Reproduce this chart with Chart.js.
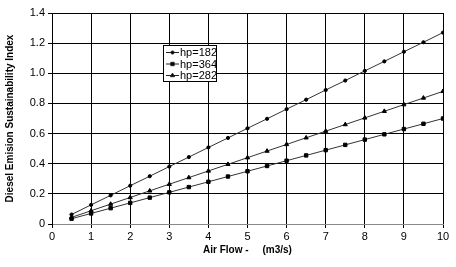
<!DOCTYPE html>
<html>
<head>
<meta charset="utf-8">
<script src="https://cdn.jsdelivr.net/npm/chart.js@4/dist/chart.umd.min.js"></script>
<style>
  html, body { margin: 0; padding: 0; background: #fff; }
  #wrap { width: 456px; height: 267px; }
</style>
</head>
<body>
<div id="wrap"><canvas id="myChart" width="456" height="267"></canvas></div>
<script>
// Air flow (m3/s)
const airFlow = [0.5, 1, 1.5, 2, 2.5, 3, 3.5, 4, 4.5, 5, 5.5, 6, 6.5, 7, 7.5, 8, 8.5, 9, 9.5, 10];

// Diesel emision sustainability index for each engine
const hp182 = [0.063, 0.127, 0.19, 0.254, 0.317, 0.381, 0.444, 0.508, 0.571, 0.635,
               0.698, 0.762, 0.825, 0.889, 0.952, 1.016, 1.079, 1.143, 1.206, 1.27];
const hp364 = [0.035, 0.07, 0.105, 0.14, 0.175, 0.21, 0.245, 0.28, 0.315, 0.35,
               0.385, 0.42, 0.455, 0.49, 0.525, 0.56, 0.595, 0.63, 0.665, 0.70];
const hp282 = [0.044, 0.088, 0.132, 0.176, 0.22, 0.264, 0.308, 0.352, 0.396, 0.44,
               0.484, 0.528, 0.572, 0.616, 0.66, 0.704, 0.748, 0.792, 0.836, 0.88];

const seriesNames = ["hp=182", "hp=364", "hp=282"];
const markers = ["circle", "rect", "triangle"];
const markerSizes = [1.6, 2.4, 2.4];

function toPoints(vals) {
    return airFlow.map((x, i) => ({ x: x, y: vals[i] }));
}

const FONT = "'Liberation Sans', Arial, sans-serif";

// leyenda dibujada dentro del area del grafico
const boxLegend = {
    id: "boxLegend",
    afterDraw(chart) {
        const ctx = chart.ctx;
        const x0 = 163, y0 = 45, w = 53, h = 36;
        ctx.save();
        ctx.fillStyle = "#fff";
        ctx.fillRect(x0, y0, w, h);
        ctx.strokeStyle = "#000";
        ctx.lineWidth = 1;
        ctx.strokeRect(x0 + 0.5, y0 + 0.5, w, h);
        ctx.font = "11px " + FONT;
        ctx.textBaseline = "middle";
        seriesNames.forEach((name, i) => {
            const yy = y0 + 7 + i * 11.5;
            ctx.strokeStyle = "#222";
            ctx.beginPath();
            ctx.moveTo(x0 + 3, yy + 0.5);
            ctx.lineTo(x0 + 16, yy + 0.5);
            ctx.stroke();
            ctx.fillStyle = "#000";
            Chart.helpers.drawPoint(ctx, { pointStyle: markers[i], radius: markerSizes[i], borderWidth: 1, rotation: 0 }, x0 + 9.5, yy + 0.5);
            ctx.fillStyle = "#000";
            ctx.fillText(name, x0 + 17, yy + 1);
        });
        ctx.restore();
    }
};

const datasets = [hp182, hp364, hp282].map((vals, i) => ({
    label: seriesNames[i],
    data: toPoints(vals),
    borderColor: "#333",
    backgroundColor: "#000",
    borderWidth: 1,
    pointStyle: markers[i],
    pointRadius: markerSizes[i],
    pointBorderColor: "#000",
    pointBackgroundColor: "#000",
    showLine: true,
    tension: 0
}));

new Chart(document.getElementById("myChart"), {
    type: "scatter",
    data: { datasets: datasets },
    options: {
        responsive: false,
        animation: false,
        layout: { padding: { left: 0, right: 13, top: 13, bottom: 0 } },
        plugins: {
            legend: { display: false },
            tooltip: { enabled: false }
        },
        scales: {
            x: {
                type: "linear",
                min: 0, max: 10,
                ticks: { stepSize: 1, color: "#000", font: { family: FONT, size: 11 }, padding: 2 },
                grid: { color: "#000", lineWidth: 1, tickLength: 4, tickColor: "#000" },
                border: { color: "#888" },
                title: {
                    display: true,
                    text: "Air Flow -     (m3/s)",
                    color: "#000",
                    font: { family: FONT, size: 10, weight: "bold" },
                    padding: { top: 0, bottom: 11 }
                },
                afterFit(scale) { scale.height = 43; }
            },
            y: {
                min: 0, max: 1.4,
                ticks: { stepSize: 0.2, color: "#000", font: { family: FONT, size: 11 }, padding: 3 },
                grid: {
                    color: (c) => c.tick && c.tick.value === 0 ? "#999" : "#000",
                    lineWidth: 1, tickLength: 4, tickColor: "#000"
                },
                border: { color: "#000" },
                title: {
                    display: true,
                    text: "Diesel Emision Sustainability Index",
                    color: "#000",
                    font: { family: FONT, size: 10, weight: "bold" },
                    padding: { bottom: 2 }
                },
                afterFit(scale) { scale.width = 52; }
            }
        }
    },
    plugins: [boxLegend]
});
</script>
</body>
</html>
